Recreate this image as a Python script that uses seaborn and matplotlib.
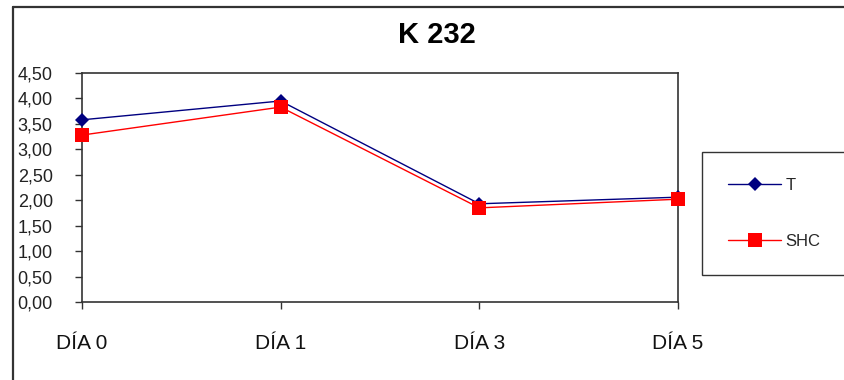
import matplotlib
matplotlib.use("Agg")
import matplotlib.pyplot as plt
from matplotlib.lines import Line2D
import seaborn as sns
import pandas as pd

days = ["DÍA 0", "DÍA 1", "DÍA 3", "DÍA 5"]
t_values = [3.58, 3.95, 1.93, 2.06]
shc_values = [3.28, 3.83, 1.85, 2.02]
y_ticks = [0.0, 0.5, 1.0, 1.5, 2.0, 2.5, 3.0, 3.5, 4.0, 4.5]

sns.set_style("white")
plt.rcParams["font.family"] = ["Liberation Sans", "DejaVu Sans"]

df = pd.DataFrame({
    "dia": days * 2,
    "valor": t_values + shc_values,
    "serie": ["T"] * len(days) + ["SHC"] * len(days),
})

fig = plt.figure(figsize=(8.44, 3.80), dpi=100)
ax = fig.add_axes([82 / 844, 1 - 302 / 380, (678 - 82) / 844, (302 - 73) / 380])

palette = {"T": "#000080", "SHC": "#ff0000"}
markers = {"T": "D", "SHC": "s"}
sizes = {"T": 7, "SHC": 10.5}
for serie in ["T", "SHC"]:
    sub = df[df["serie"] == serie]
    sns.lineplot(data=sub, x="dia", y="valor", ax=ax, color=palette[serie],
                 marker=markers[serie], markersize=sizes[serie],
                 markeredgewidth=0, linewidth=1.0, sort=False, legend=False,
                 clip_on=False, zorder=3)

ax.set_xlim(0, len(days) - 1)
ax.set_ylim(0, 4.5)
ax.set_yticks(y_ticks)
ax.set_yticklabels([f"{v:.2f}".replace(".", ",") for v in y_ticks])
ax.set_xticks(range(len(days)))
ax.set_xticklabels(days)
ax.set_xlabel("")
ax.set_ylabel("")

for side in ["left", "right", "top", "bottom"]:
    ax.spines[side].set_visible(True)
    ax.spines[side].set_color("#333333")
    ax.spines[side].set_linewidth(1.2)

ax.tick_params(axis="y", direction="out", length=5, width=1, color="#333333",
               labelsize=13, labelcolor="#222222", pad=16, left=True)
ax.tick_params(axis="x", direction="out", length=5, width=1, color="#333333",
               labelsize=15, labelcolor="#111111", pad=18, bottom=True)

fig.text(437 / 844, 1 - 35 / 380, "K 232", ha="center", va="center",
         fontsize=21, fontweight="bold", color="#000000")

handles = [
    Line2D([], [], color=palette["T"], marker="D", markersize=7,
           markeredgewidth=0, linewidth=1.0, label="T"),
    Line2D([], [], color=palette["SHC"], marker="s", markersize=10.5,
           markeredgewidth=0, linewidth=1.0, label="SHC"),
]
leg = fig.legend(handles=handles, loc="upper left",
                 bbox_to_anchor=(702 / 844, 1 - 152 / 380),
                 frameon=True, fancybox=False, fontsize=12,
                 handlelength=3.2, labelspacing=2.45, borderpad=1.55,
                 handletextpad=0.25, borderaxespad=0)
leg.get_frame().set_edgecolor("#000000")
leg.get_frame().set_linewidth(1.0)

# outer chart frame
fig.add_artist(Line2D([13 / 844, 13 / 844], [0, 1 - 7 / 380],
                      transform=fig.transFigure, color="#333333", linewidth=1.6))
fig.add_artist(Line2D([13 / 844, 1], [1 - 7 / 380, 1 - 7 / 380],
                      transform=fig.transFigure, color="#333333", linewidth=1.6))

fig.savefig("out.png", dpi=100)
